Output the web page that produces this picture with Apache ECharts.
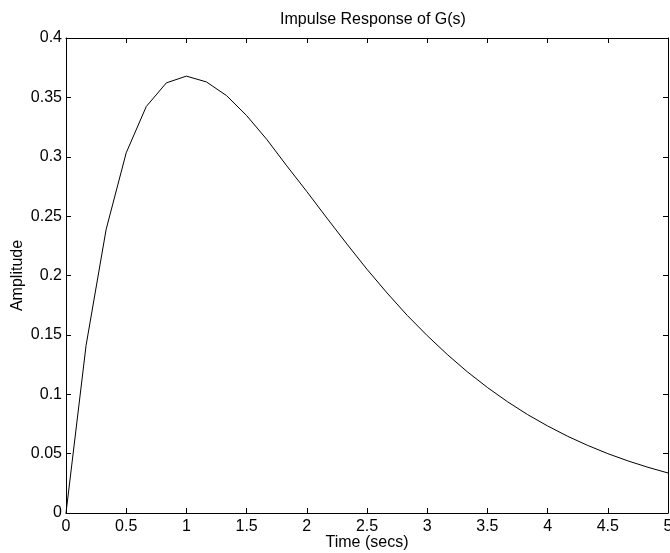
<!DOCTYPE html>
<html>
<head>
<meta charset="utf-8">
<script src="https://cdn.jsdelivr.net/npm/echarts@6/dist/echarts.min.js"></script>
<style>html,body{margin:0;padding:0;background:#fff;}#c{width:670px;height:553px;}</style>
</head>
<body>
<div id="c"></div>
<script>
const titleText = "Impulse Response of G(s)";
const xName = "Time (secs)";
const yName = "Amplitude";
const timeValues = [0, 0.1667, 0.3333, 0.5, 0.6667, 0.8333, 1.0, 1.1667, 1.3333, 1.5, 1.6667, 1.8333, 2.0, 2.1667, 2.3333, 2.5, 2.6667, 2.8333, 3.0, 3.1667, 3.3333, 3.5, 3.6667, 3.8333, 4.0, 4.1667, 4.3333, 4.5, 4.6667, 4.8333, 5.0];
const amplitudeValues = [0, 0.1411, 0.2388, 0.3033, 0.3423, 0.3622, 0.3679, 0.3630, 0.3515, 0.3347, 0.3147, 0.2924, 0.2707, 0.2484, 0.2265, 0.2052, 0.1853, 0.1665, 0.1494, 0.1335, 0.1189, 0.1057, 0.0937, 0.0829, 0.0733, 0.0646, 0.0569, 0.0500, 0.0439, 0.0385, 0.0337];
const xTicks = [0, 0.5, 1, 1.5, 2, 2.5, 3, 3.5, 4, 4.5, 5];
const yTicks = [0, 0.05, 0.1, 0.15, 0.2, 0.25, 0.3, 0.35, 0.4];

const font = "Liberation Sans, Arial, Helvetica, sans-serif";
const chart = echarts.init(document.getElementById('c'), null, {renderer: 'canvas'});
const lineStyle = {color: '#000', width: 1};
const tickStyle = {show: true, inside: true, length: 5, lineStyle: {color: '#000', width: 1}};
chart.setOption({
  animation: false,
  backgroundColor: '#fff',
  title: {
    text: titleText, left: 368, top: 7, textAlign: 'center',
    textStyle: {fontFamily: font, fontSize: 16, fontWeight: 'normal', color: '#000'}
  },
  grid: {left: 66, right: 2, top: 38, bottom: 40, containLabel: false, outerBoundsMode: 'none'},
  xAxis: [{
    type: 'value', min: 0, max: 5, interval: 0.5, position: 'bottom',
    name: xName, nameLocation: 'middle', nameGap: 22, nameMoveOverlap: false,
    nameTextStyle: {fontFamily: font, fontSize: 16, color: '#000'},
    axisLine: {show: true, onZero: false, lineStyle: lineStyle},
    axisTick: tickStyle,
    axisLabel: {fontFamily: font, fontSize: 16, color: '#000', margin: 6, hideOverlap: false,
      formatter: v => xTicks.includes(+v.toFixed(2)) ? String(+v.toFixed(2)) : ''},
    splitLine: {show: false}
  }, {
    type: 'value', min: 0, max: 5, interval: 0.5, position: 'top',
    axisLine: {show: true, onZero: false, lineStyle: lineStyle},
    axisTick: tickStyle, axisLabel: {show: false}, splitLine: {show: false}
  }],
  yAxis: [{
    type: 'value', min: 0, max: 0.4, interval: 0.05, position: 'left',
    name: yName, nameLocation: 'middle', nameGap: 40, nameRotate: 90, nameMoveOverlap: false,
    nameTextStyle: {fontFamily: font, fontSize: 16, color: '#000'},
    axisLine: {show: true, onZero: false, lineStyle: lineStyle},
    axisTick: tickStyle,
    axisLabel: {fontFamily: font, fontSize: 16, color: '#000', margin: 4,
      formatter: v => yTicks.includes(+v.toFixed(2)) ? String(+v.toFixed(2)) : ''},
    splitLine: {show: false}
  }, {
    type: 'value', min: 0, max: 0.4, interval: 0.05, position: 'right',
    axisLine: {show: true, onZero: false, lineStyle: lineStyle},
    axisTick: tickStyle, axisLabel: {show: false}, splitLine: {show: false}
  }],
  series: [{
    type: 'line', xAxisIndex: 0, yAxisIndex: 0,
    data: timeValues.map((t, i) => [t, amplitudeValues[i]]),
    showSymbol: false, symbol: 'none', smooth: false,
    lineStyle: {color: '#000', width: 1}
  }]
});
</script>
</body>
</html>
